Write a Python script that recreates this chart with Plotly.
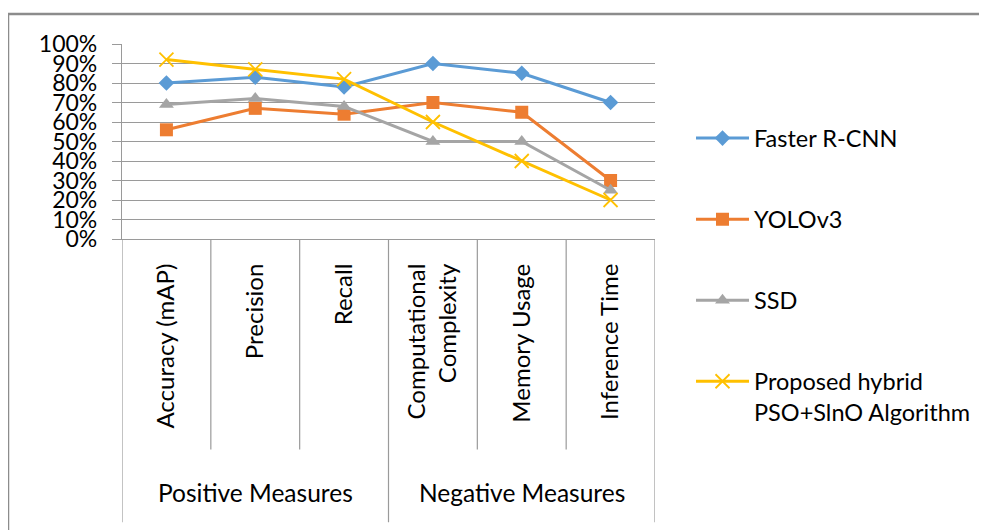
import plotly.graph_objects as go

categories = ["Accuracy (mAP)", "Precision", "Recall",
              "Computational<br>Complexity", "Memory Usage", "Inference Time"]
groups = ["Positive Measures", "Negative Measures"]
series_names = ["Faster R-CNN", "YOLOv3", "SSD",
                "Proposed hybrid<br>PSO+SlnO Algorithm"]
faster_rcnn = [0.80, 0.83, 0.78, 0.90, 0.85, 0.70]
yolov3 = [0.56, 0.67, 0.64, 0.70, 0.65, 0.30]
ssd = [0.69, 0.72, 0.68, 0.50, 0.50, 0.25]
proposed = [0.92, 0.87, 0.82, 0.60, 0.40, 0.20]
y_ticks = [i / 10 for i in range(11)]

FONT = "Lato"
FS = 24
GRID = "#9a9a9a"

W, H = 987, 530
OFF = 8  # page body margin
# plot area in page pixels: x 122..655, y 43.5..239
L = 122 - OFF
T = 43.5 - OFF
R = W - (655 - OFF)
B = H - (239 - OFF)
pw, ph = W - L - R, H - T - B


def px_x(p):
    return (p - OFF - L) / pw


def px_y(p):
    return (H - B - (p - OFF)) / ph


fig = go.Figure()
styles = [
    dict(color="#5B9BD5", symbol="diamond", size=12, lw=0),
    dict(color="#ED7D31", symbol="square", size=13, lw=0),
    dict(color="#A5A5A5", symbol="triangle-up", size=13, lw=0),
    dict(color="#FFC000", symbol="x-thin", size=14, lw=1.8),
]
for name, vals, st in zip(series_names, [faster_rcnn, yolov3, ssd, proposed], styles):
    fig.add_trace(go.Scatter(
        x=categories, y=vals, name=name, mode="lines+markers",
        legendgroup=name,
        line=dict(color=st["color"], width=3),
        marker=dict(symbol=st["symbol"], size=st["size"], color=st["color"],
                    line=dict(color=st["color"], width=st["lw"])),
    ))

shapes = []
# category separators
for k in range(len(categories) + 1):
    outer = k in (0, 3, 6)
    shapes.append(dict(type="line", xref="x", yref="paper",
                       x0=k - 0.5, x1=k - 0.5, y0=0,
                       y1=px_y(523 if outer else 450),
                       line=dict(color=GRID, width=1.2)))
# chart border
shapes.append(dict(type="rect", xref="paper", yref="paper",
                   x0=px_x(8), x1=px_x(1020), y0=px_y(570), y1=px_y(13.5),
                   line=dict(color="#8c8c8c", width=2.5), fillcolor="rgba(0,0,0,0)",
                   layer="below"))

annotations = []
for g, center in zip(groups, [1, 4]):
    annotations.append(dict(text=g, x=center, xref="x", y=px_y(493), yref="paper",
                            xanchor="center", yanchor="middle", showarrow=False,
                            font=dict(family=FONT, size=24.5, color="black")))

fig.update_layout(
    width=W, height=H,
    margin=dict(l=L, r=R, t=T, b=B, autoexpand=False),
    paper_bgcolor="white", plot_bgcolor="white",
    shapes=shapes, annotations=annotations,
    font=dict(family=FONT, size=FS, color="black"),
    legend=dict(x=px_x(691), y=px_y(116), xanchor="left", yanchor="top",
                font=dict(family=FONT, size=23.5, color="black"),
                tracegroupgap=47.5, valign="top", itemwidth=53,
                maxheight=600,
                bgcolor="rgba(0,0,0,0)"),
    xaxis=dict(type="category", range=[-0.5, len(categories) - 0.5],
               automargin=False,
               showgrid=False, showline=True, linecolor=GRID, linewidth=1.2,
               ticks="", tickangle=-90, ticklabelstandoff=14,
               tickfont=dict(family=FONT, size=FS, color="black")),
    yaxis=dict(range=[0, 1], tickvals=y_ticks, tickformat=".0%",
               automargin=False,
               showgrid=True, gridcolor=GRID, gridwidth=1.2,
               showline=True, linecolor=GRID, linewidth=1.2,
               ticks="outside", ticklen=9, tickcolor=GRID, tickwidth=1.2,
               zeroline=False, ticklabelstandoff=10,
               tickfont=dict(family=FONT, size=23, color="black")),
)

fig.write_html("out.html")
